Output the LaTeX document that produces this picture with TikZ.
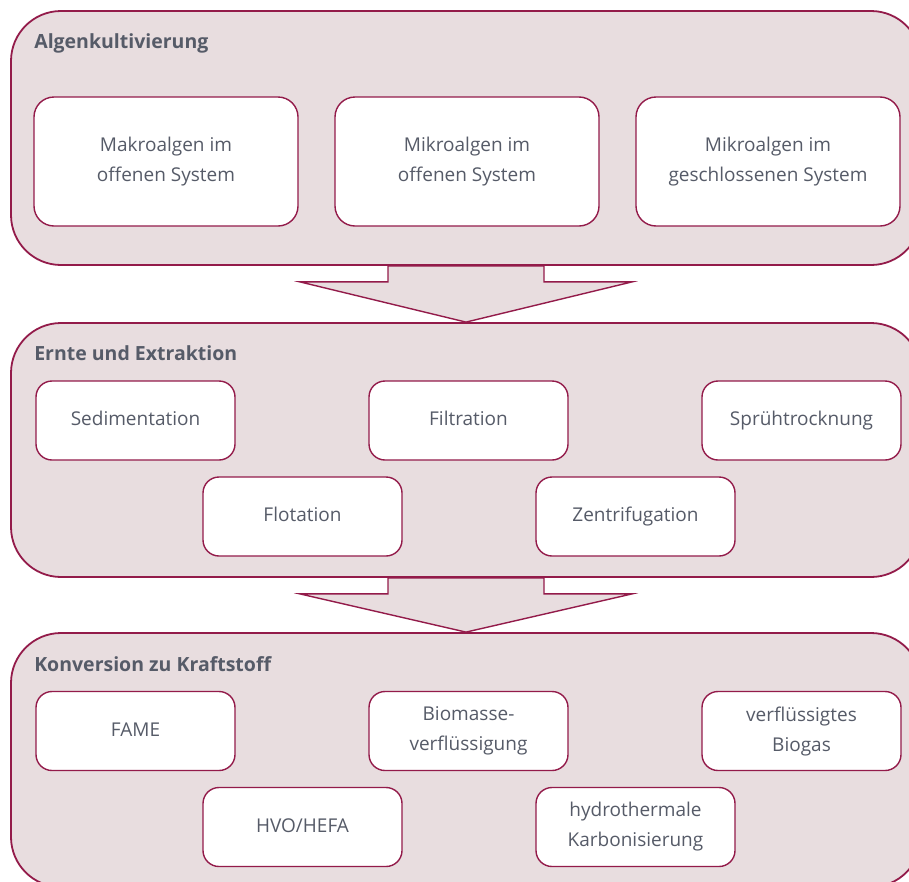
\documentclass[tikz,border=0pt]{standalone}
\usepackage{fontspec}
\setmainfont{Open Sans}
\usetikzlibrary{calc}

\definecolor{algred}{HTML}{931B4A}
\definecolor{algfill}{HTML}{E8DDDF}
\definecolor{alggray}{HTML}{565B68}

\tikzset{
	stage/.style={draw=algred, line width=1.8pt, fill=algfill, rounded corners=50pt,
		minimum width=910pt, minimum height=254pt, inner sep=0pt},
	stagetitle/.style={anchor=west, text=alggray, inner sep=0pt,
		font=\fontsize{19.5}{22}\selectfont\bfseries},
	bigbox/.style={draw=algred, line width=1.4pt, fill=white, rounded corners=20pt,
		minimum width=264pt, minimum height=129pt, align=center, text=alggray,
		font=\fontsize{19}{30}\selectfont},
	smallbox/.style={bigbox, rounded corners=16pt, minimum width=199pt, minimum height=79pt},
	oneline/.style={text height=14pt, text depth=4pt},
	flow/.style={draw=algred, line width=1.4pt, fill=algfill, line join=miter}
}

\begin{document}
\begin{tikzpicture}[x=1pt, y=-1pt]
		\useasboundingbox (0,0) rectangle (909,881);
		\clip (0,0) rectangle (909,881);
		% three stages
		\node[stage] (kult) at (466,138) {};
		\node[stage] (ernte) at (466,450) {};
		\node[stage] (konv) at (466,760) {};
		\node[stagetitle] (kulttitle) at ($(kult.north west)+(24,33)$) {Algenkultivierung};
		\node[stagetitle] (erntetitle) at ($(ernte.north west)+(24,31)$) {Ernte und Extraktion};
		\node[stagetitle] (konvtitle) at ($(konv.north west)+(24,32)$) {Konversion zu Kraftstoff};
		% block arrows between the stages
		\foreach \a/\b in {kult/ernte, ernte/konv}
			\draw[flow] ($(\a.south)+(-78,0)$) -- ++(0,16) -- ++(-88,0) -- (\b.north)
				-- ($(\a.south)+(166,16)$) -- ++(-88,0) -- ++(0,-16) -- cycle;
		% Algenkultivierung
		\node[bigbox] (makro) at (166,161.5) {Makroalgen im\\offenen System};
		\node[bigbox] (mikroo) at (467,161.5) {Mikroalgen im\\offenen System};
		\node[bigbox] (mikrog) at (768,161.5) {Mikroalgen im\\geschlossenen System};
		% Ernte und Extraktion
		\node[smallbox, oneline] (sedi) at (135.5,420.5) {Sedimentation};
		\node[smallbox, oneline] (filt) at (468.5,420.5) {Filtration};
		\node[smallbox, oneline] (spruh) at (801.5,420.5) {Sprühtrocknung};
		\node[smallbox, oneline] (flot) at (302.5,516.5) {Flotation};
		\node[smallbox, oneline] (zent) at (635.5,516.5) {Zentrifugation};
		% Konversion zu Kraftstoff
		\node[smallbox, oneline] (fame) at (135.5,731) {FAME};
		\node[smallbox] (biom) at (468.5,731) {Biomasse-\\verflüssigung};
		\node[smallbox] (biogas) at (801.5,731) {verflüssigtes\\Biogas};
		\node[smallbox, oneline] (hvo) at (302.5,827) {HVO/HEFA};
		\node[smallbox] (htc) at (635.5,827) {hydrothermale\\Karbonisierung};
	\end{tikzpicture}
\end{document}
